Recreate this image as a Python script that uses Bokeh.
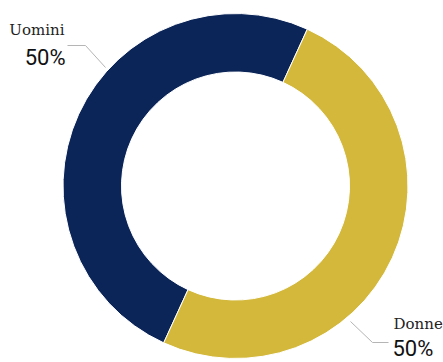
import math
from bokeh.plotting import figure
from bokeh.models import Range1d, ColumnDataSource
from bokeh.core.properties import value
from bokeh.embed import file_html
from bokeh.resources import INLINE

categories = ["Uomini", "Donne"]
values = [50, 50]
pct_labels = ["50%", "50%"]
colors = ["#0c2558", "#d3b83b"]

W, H = 443, 362
CX, CY = 235, H - 185.5
R_OUT, R_IN = 172.5, 114
START_DEG = 65.4  # where the first slice begins (anticlockwise)

total = float(sum(values))
starts, ends = [], []
a = math.radians(START_DEG)
for v in values:
    starts.append(a)
    a += 2 * math.pi * v / total
    ends.append(a)

p = figure(width=W, height=H, output_backend="svg", toolbar_location=None,
           x_range=Range1d(0, W), y_range=Range1d(0, H), min_border=0,
           x_axis_type=None, y_axis_type=None, outline_line_color=None)
p.grid.visible = False
p.background_fill_color = "white"
p.border_fill_color = "white"

src = ColumnDataSource(dict(cat=categories, val=values, start=starts, end=ends, color=colors))
p.annular_wedge(x=CX, y=CY, inner_radius=R_IN, outer_radius=R_OUT,
                start_angle="start", end_angle="end", fill_color="color",
                line_color="white", line_width=1, source=src)

# leader lines (layout only)
lead_x = [[105, 85, 67], [350, 372, 388]]
lead_y = [[H - 67, H - 45, H - 45], [H - 321, H - 342, H - 342]]
p.multi_line(xs=lead_x, ys=lead_y, line_color="#b5b5b5", line_width=1)

# labels
SHIFT = 8
name_x = [64, 393]
name_y = [H - 37.5 + SHIFT, H - 331 + SHIFT]
pct_x = [65, 392]
pct_y = [H - 65 + SHIFT, H - 356 + SHIFT]
aligns = ["right", "left"]
for i in range(2):
    p.text(x=[name_x[i]], y=[name_y[i]], text=[categories[i]],
           text_font=value("DejaVu Serif"), text_font_size="15px",
           text_color="#222222", text_align=aligns[i], text_baseline="alphabetic")
    p.text(x=[pct_x[i]], y=[pct_y[i]], text=[pct_labels[i]],
           text_font=value("Roboto"), text_font_size="22px",
           text_color="#111111", text_align=aligns[i], text_baseline="alphabetic")

open("out.html", "w").write(file_html(p, INLINE))
